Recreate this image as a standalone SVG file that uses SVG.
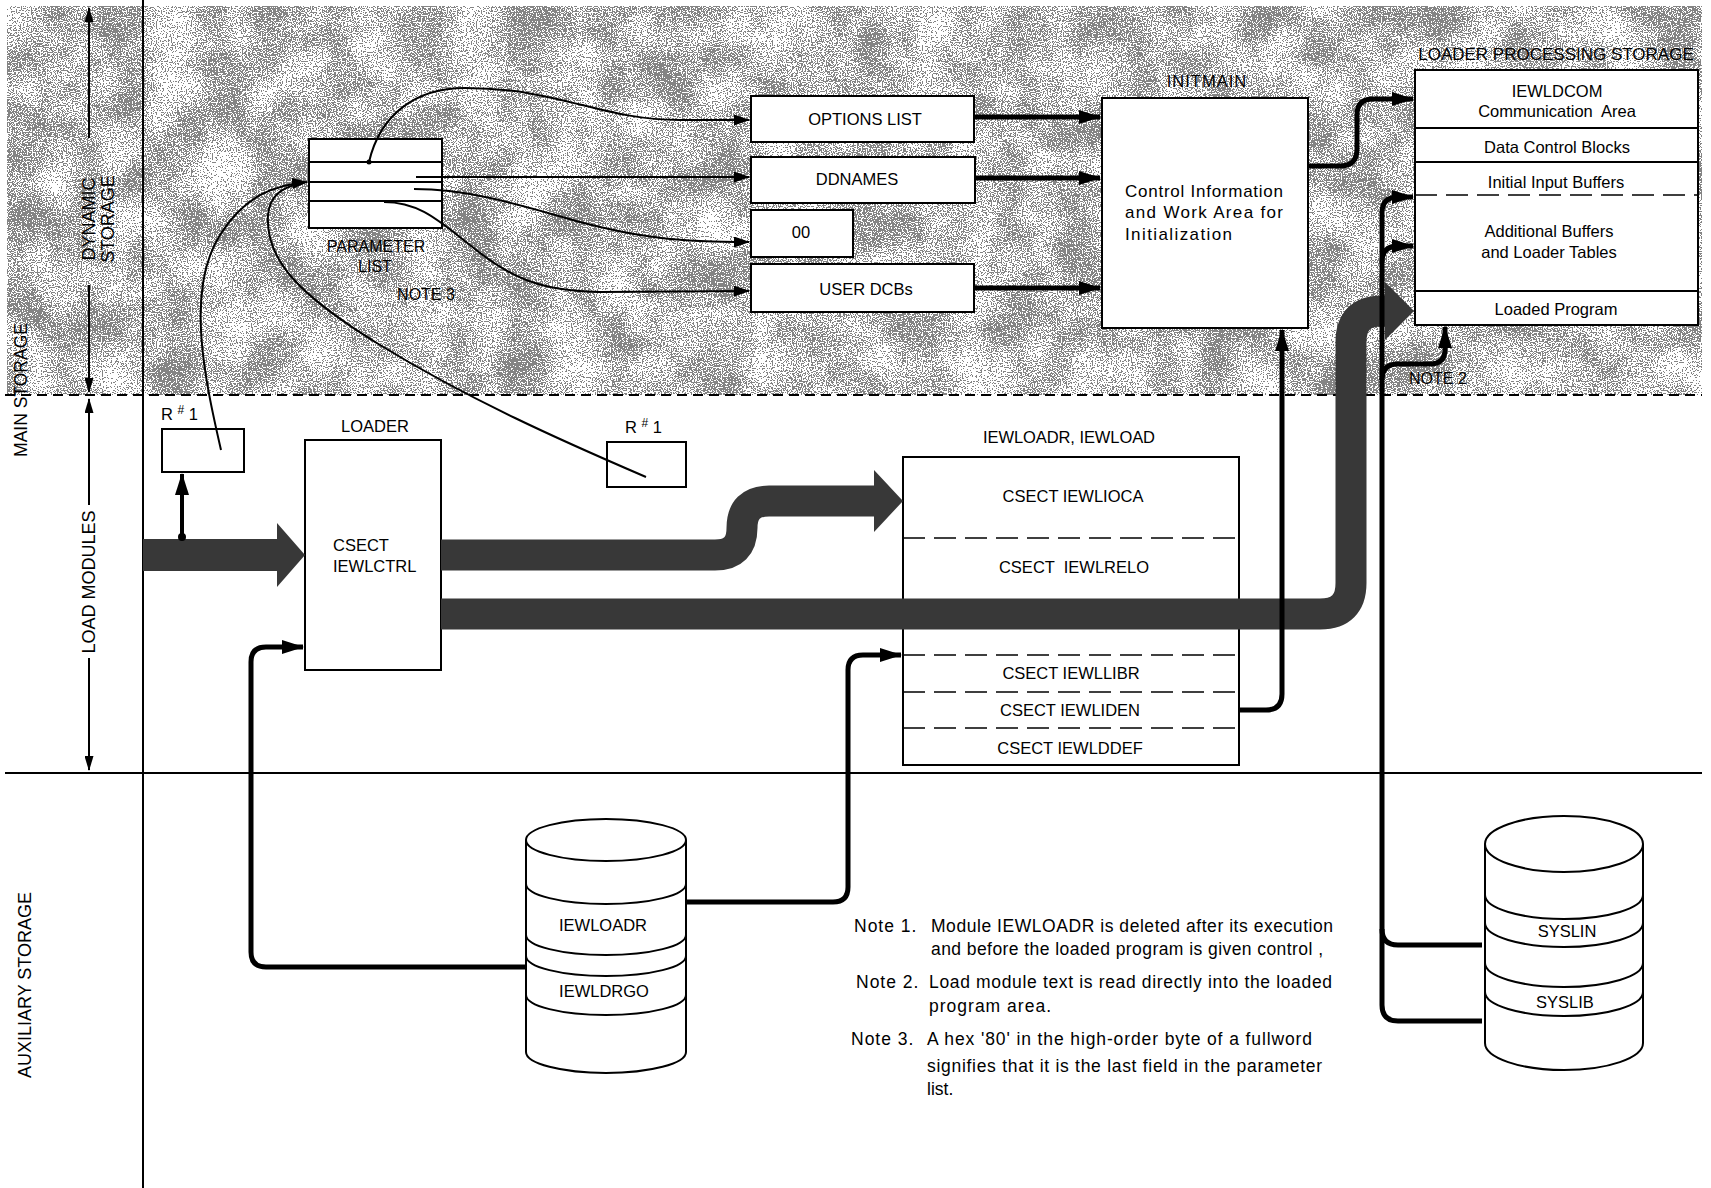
<svg xmlns="http://www.w3.org/2000/svg" width="1711" height="1188" viewBox="0 0 1711 1188">
<defs>
<style>
.t{font-family:"Liberation Sans",Arial,sans-serif;font-size:16.5px;fill:#000}
.n{font-size:17.5px}
.nl{font-size:17.5px;letter-spacing:1px}
.c{text-anchor:middle}
.box{fill:#fff;stroke:#000;stroke-width:2}
.thin{fill:none;stroke:#000;stroke-width:2}
.bold{fill:none;stroke:#000;stroke-width:5}
.rule{fill:none;stroke:#000;stroke-width:2}
.dash{fill:none;stroke:#000;stroke-width:1.5;stroke-dasharray:22 9}
.band{fill:none;stroke:#383838;stroke-width:31}
.bandf{fill:#383838}
</style>
<filter id="speck" filterUnits="userSpaceOnUse" x="7" y="6" width="1695" height="389" color-interpolation-filters="sRGB">
<feTurbulence type="fractalNoise" baseFrequency="0.8" numOctaves="1" seed="11" result="f0"/>
<feColorMatrix in="f0" type="matrix" values="1 0 0 0 0 1 0 0 0 0 1 0 0 0 0 0 0 0 0 1" result="f"/>
<feTurbulence type="fractalNoise" baseFrequency="0.02" numOctaves="3" seed="4" result="c0"/>
<feColorMatrix in="c0" type="matrix" values="1 0 0 0 0 1 0 0 0 0 1 0 0 0 0 0 0 0 0 1" result="c"/>
<feComposite in="f" in2="c" operator="arithmetic" k1="0" k2="1" k3="0.35" k4="-0.165" result="m"/>
<feComponentTransfer in="m">
<feFuncR type="discrete" tableValues="0.52 1"/>
<feFuncG type="discrete" tableValues="0.52 1"/>
<feFuncB type="discrete" tableValues="0.52 1"/>
<feFuncA type="linear" slope="0" intercept="1"/>
</feComponentTransfer>
</filter>
<marker id="a" viewBox="0 0 16 11" refX="15" refY="5.5" markerWidth="16" markerHeight="11" markerUnits="userSpaceOnUse" orient="auto"><path d="M0,0 L16,5.5 L0,11 z"/></marker>
<marker id="b" viewBox="0 0 22 14" refX="21" refY="7" markerWidth="22" markerHeight="14" markerUnits="userSpaceOnUse" orient="auto"><path d="M0,0 L22,7 L0,14 z"/></marker>
<marker id="d" viewBox="0 0 15 9" refX="14" refY="4.5" markerWidth="15" markerHeight="9" markerUnits="userSpaceOnUse" orient="auto-start-reverse"><path d="M0,0 L15,4.5 L0,9 z"/></marker>
</defs>

<rect width="1711" height="1188" fill="#fff"/>

<!-- textured dynamic storage region -->
<rect x="7" y="6" width="1695" height="389" fill="#aaa" filter="url(#speck)"/>

<!-- frame lines -->
<g id="frame">
<line class="rule" x1="143" y1="0" x2="143" y2="1188"/>
<line class="rule" x1="5" y1="773" x2="1702" y2="773"/>
<line x1="5" y1="395" x2="1702" y2="395" stroke="#000" stroke-width="2" stroke-dasharray="10 6"/>
</g>

<!-- side labels -->
<g id="side-labels">
<text class="t c" style="font-size:17.5px" transform="translate(27,390) rotate(-90)">MAIN STORAGE</text>
<text class="t c" style="font-size:18px" transform="translate(31,985) rotate(-90)">AUXILIARY STORAGE</text>
<text class="t c" style="font-size:18px" transform="translate(95,219) rotate(-90)">DYNAMIC</text>
<text class="t c" style="font-size:18px" transform="translate(114,219) rotate(-90)">STORAGE</text>
<text class="t c" style="font-size:18px" transform="translate(95,582) rotate(-90)">LOAD MODULES</text>
<line class="thin" x1="89" y1="138" x2="89" y2="8" marker-end="url(#d)"/>
<line class="thin" x1="89" y1="285" x2="89" y2="392" marker-end="url(#d)"/>
<line class="thin" x1="89" y1="505" x2="89" y2="399" marker-end="url(#d)"/>
<line class="thin" x1="89" y1="658" x2="89" y2="770" marker-end="url(#d)"/>
</g>

<!-- nodes -->
<g id="parameter-list">
<rect class="box" x="309" y="139" width="133" height="89"/>
<line class="thin" x1="309" y1="162" x2="442" y2="162"/>
<line class="thin" x1="309" y1="182" x2="442" y2="182"/>
<line class="thin" x1="309" y1="201" x2="442" y2="201"/>
<text class="t c" style="font-size:16px" x="376" y="252">PARAMETER</text>
<text class="t c" style="font-size:16px" x="375" y="272">LIST</text>
<text class="t c" style="font-size:16px" x="426" y="300">NOTE 3</text>
</g>

<g id="options-list">
<rect class="box" x="751" y="96" width="223" height="46"/>
<text class="t c" x="865" y="125">OPTIONS LIST</text>
</g>
<g id="ddnames">
<rect class="box" x="751" y="157" width="224" height="46"/>
<text class="t c" x="857" y="185">DDNAMES</text>
</g>
<g id="zero-zero">
<rect class="box" x="751" y="210" width="102" height="47"/>
<text class="t c" x="801" y="238">00</text>
</g>
<g id="user-dcbs">
<rect class="box" x="751" y="264" width="223" height="48"/>
<text class="t c" x="866" y="295">USER DCBs</text>
</g>

<g id="initmain">
<text class="t c" style="letter-spacing:1px" x="1207" y="87">INITMAIN</text>
<rect class="box" x="1102" y="98" width="206" height="230"/>
<text class="t" style="font-size:17px" x="1125" y="197" textLength="158" lengthAdjust="spacing">Control Information</text>
<text class="t" style="font-size:17px" x="1125" y="218" textLength="158" lengthAdjust="spacing">and Work Area for</text>
<text class="t" style="font-size:17px" x="1125" y="240" textLength="107" lengthAdjust="spacing">Initialization</text>
</g>

<g id="loader-processing-storage">
<text class="t c" style="font-size:17px" x="1556" y="60">LOADER PROCESSING STORAGE</text>
<rect class="box" x="1415" y="70" width="283" height="255"/>
<line class="thin" x1="1415" y1="128" x2="1698" y2="128"/>
<line class="thin" x1="1415" y1="162" x2="1698" y2="162"/>
<line class="dash" x1="1415" y1="195" x2="1698" y2="195"/>
<line class="thin" x1="1415" y1="291" x2="1698" y2="291"/>
<text class="t c" x="1557" y="97">IEWLDCOM</text>
<text class="t c" x="1557" y="117" xml:space="preserve">Communication  Area</text>
<text class="t c" x="1557" y="153">Data Control Blocks</text>
<text class="t c" x="1556" y="188">Initial Input Buffers</text>
<text class="t c" x="1549" y="237">Additional Buffers</text>
<text class="t c" x="1549" y="258">and Loader Tables</text>
<text class="t c" x="1556" y="315">Loaded Program</text>
<text class="t" style="font-size:16px" x="1409" y="384">NOTE 2</text>
</g>

<g id="r1-left">
<text class="t" x="161" y="420">R <tspan dy="-6" font-size="12">#</tspan><tspan dy="6"> 1</tspan></text>
<rect class="box" x="162" y="429" width="82" height="43"/>
</g>
<g id="r1-right">
<text class="t" x="625" y="433">R <tspan dy="-6" font-size="12">#</tspan><tspan dy="6"> 1</tspan></text>
<rect class="box" x="607" y="442" width="79" height="45"/>
</g>

<g id="loader">
<text class="t c" x="375" y="432">LOADER</text>
<rect class="box" x="305" y="440" width="136" height="230"/>
<text class="t" x="333" y="551">CSECT</text>
<text class="t" x="333" y="572">IEWLCTRL</text>
</g>

<g id="iewloadr">
<text class="t c" x="1069" y="443" textLength="172" lengthAdjust="spacing">IEWLOADR, IEWLOAD</text>
<rect class="box" x="903" y="457" width="336" height="308"/>
<line class="dash" x1="903" y1="538" x2="1239" y2="538"/>
<line class="dash" x1="903" y1="655" x2="1239" y2="655"/>
<line class="dash" x1="903" y1="692" x2="1239" y2="692"/>
<line class="dash" x1="903" y1="728" x2="1239" y2="728"/>
<text class="t c" x="1073" y="502">CSECT IEWLIOCA</text>
<text class="t c" x="1074" y="573" xml:space="preserve">CSECT  IEWLRELO</text>
<text class="t c" x="1071" y="679">CSECT IEWLLIBR</text>
<text class="t c" x="1070" y="716">CSECT IEWLIDEN</text>
<text class="t c" x="1070" y="754">CSECT IEWLDDEF</text>
</g>

<g id="disk-iewloadr">
<path class="box" d="M526,840 V1052 A80,21 0 0 0 686,1052 V840"/>
<ellipse class="box" cx="606" cy="840" rx="80" ry="21"/>
<path class="thin" d="M526,884 A80,20 0 0 0 686,884"/>
<path class="thin" d="M526,935 A80,20 0 0 0 686,935"/>
<path class="thin" d="M526,956 A80,20 0 0 0 686,956"/>
<path class="thin" d="M526,995 A80,20 0 0 0 686,995"/>
<text class="t c" x="603" y="931">IEWLOADR</text>
<text class="t c" x="604" y="997">IEWLDRGO</text>
</g>

<g id="disk-syslin">
<path class="box" d="M1485,844 V1043 A79,27 0 0 0 1643,1043 V844"/>
<ellipse class="box" cx="1564" cy="844" rx="79" ry="28"/>
<path class="thin" d="M1485,895 A79,24 0 0 0 1643,895"/>
<path class="thin" d="M1485,923 A79,24 0 0 0 1643,923"/>
<path class="thin" d="M1485,963 A79,24 0 0 0 1643,963"/>
<path class="thin" d="M1485,992 A79,24 0 0 0 1643,992"/>
<text class="t c" x="1567" y="937">SYSLIN</text>
<text class="t c" x="1565" y="1008">SYSLIB</text>
</g>

<g id="notes">
<text class="t nl" x="854" y="932">Note 1.</text>
<text class="t n" x="931" y="932" textLength="402" lengthAdjust="spacing">Module IEWLOADR is deleted after its execution</text>
<text class="t n" x="931" y="955" textLength="392" lengthAdjust="spacing">and before  the loaded program is given control ,</text>
<text class="t nl" x="856" y="988">Note 2.</text>
<text class="t n" x="929" y="988" textLength="403" lengthAdjust="spacing">Load module text is read directly  into the loaded</text>
<text class="t n" x="929" y="1012" textLength="122" lengthAdjust="spacing">program area.</text>
<text class="t nl" x="851" y="1045">Note 3.</text>
<text class="t n" x="927" y="1045" textLength="385" lengthAdjust="spacing">A hex '80' in the high-order byte of a fullword</text>
<text class="t n" x="927" y="1072" textLength="395" lengthAdjust="spacing">signifies that it is the last field in the parameter</text>
<text class="t n" x="927" y="1095">list.</text>
</g>

<!-- connectors -->
<g id="connectors">
<!-- big shaded arrows -->
<polygon class="bandf" points="143,539 277,539 277,523 305,555 277,587 277,571 143,571"/>
<path class="band" d="M441,555 H715 Q742,555 742,528 Q742,501 769,501 H876"/>
<polygon class="bandf" points="874,470 903,501 874,532"/>
<path class="band" d="M441,614 H1320 Q1351,614 1351,583 V342 Q1351,311 1382,311 H1388"/>
<polygon class="bandf" points="1385,282 1414,311 1385,340"/>

<!-- thin curves from parameter list -->
<circle cx="369" cy="162" r="2.5"/>
<path class="thin" d="M369,162 C380,115 415,88 465,88 C560,88 600,120 680,120 L749,120" marker-end="url(#a)"/>
<path class="thin" d="M416,177 L749,177" marker-end="url(#a)"/>
<path class="thin" d="M414,189 C470,189 520,205 580,222 C640,238 680,242 749,242" marker-end="url(#a)"/>
<path class="thin" d="M384,202 C420,202 440,222 470,245 C510,278 540,291 600,292 L749,291" marker-end="url(#a)"/>
<path class="thin" d="M221,450 C205,380 185,290 220,235 C245,195 275,185 307,182" marker-end="url(#a)"/>
<path class="thin" d="M646,477 C560,440 470,400 380,345 C300,296 265,260 268,215 C270,195 282,188 298,184"/>

<!-- bold connectors -->
<path class="bold" d="M975,117 L1100,117" marker-end="url(#b)"/>
<path class="bold" d="M976,178 L1100,178" marker-end="url(#b)"/>
<path class="bold" d="M975,288 L1100,288" marker-end="url(#b)"/>
<path class="bold" d="M1308,166 H1340 Q1357,166 1357,149 V115 Q1357,99 1373,99 H1413" marker-end="url(#b)"/>
<path class="bold" d="M1239,710 H1266 Q1282,710 1282,694 V330" marker-end="url(#b)"/>
<path class="bold" d="M1482,1021 H1398 Q1382,1021 1382,1005 V213 Q1382,197 1398,197 H1413" marker-end="url(#b)"/>
<path class="bold" d="M1482,945 H1398 Q1382,945 1382,929"/>
<path class="bold" d="M1382,262 Q1382,246 1398,246 H1413" marker-end="url(#b)"/>
<path class="bold" d="M1382,380 Q1382,364 1398,364 H1430 Q1445,364 1445,349 V327" marker-end="url(#b)"/>
<path class="bold" d="M526,967 H266 Q251,967 251,952 V662 Q251,647 266,647 H303" marker-end="url(#b)"/>
<path class="bold" d="M686,902 H833 Q848,902 848,887 V670 Q848,655 863,655 H901" marker-end="url(#b)"/>
<circle cx="182" cy="537" r="4"/>
<path d="M182,540 V474" fill="none" stroke="#000" stroke-width="4" marker-end="url(#b)"/>
</g>
</svg>
